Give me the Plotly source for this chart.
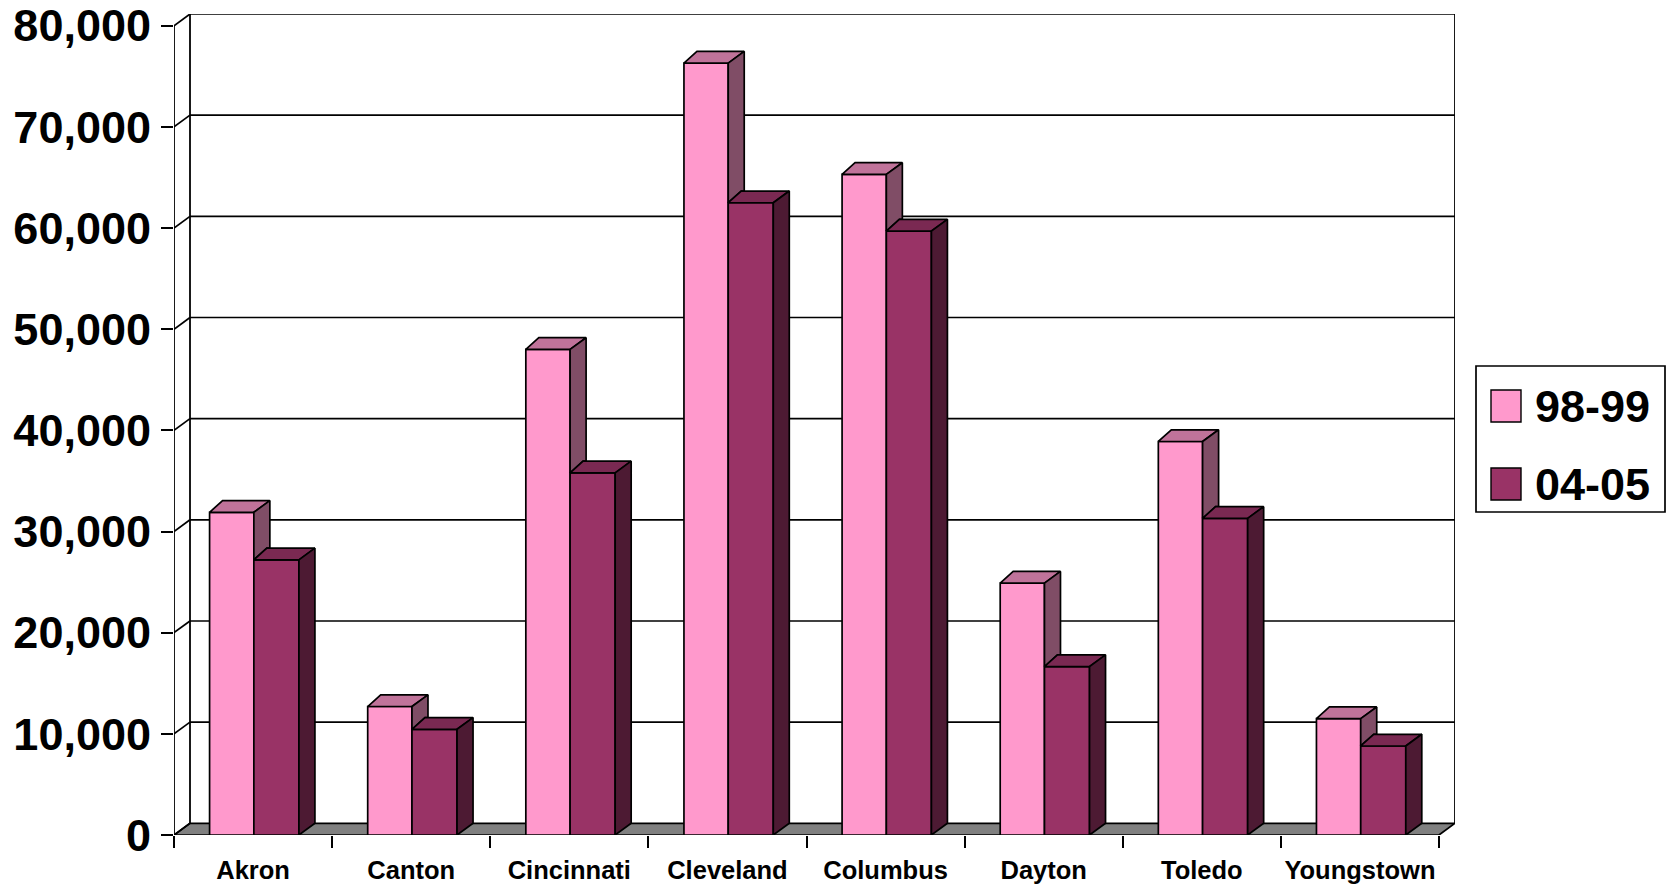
import plotly.graph_objects as go

# ---------------- data ----------------
categories = ["Akron", "Canton", "Cincinnati", "Cleveland", "Columbus", "Dayton", "Toledo", "Youngstown"]
series_names = ["98-99", "04-05"]
values_9899 = [31900, 12700, 48000, 76300, 65300, 24900, 38900, 11500]
values_0405 = [27200, 10450, 35800, 62500, 59700, 16650, 31300, 8800]
y_tick_values = [0, 10000, 20000, 30000, 40000, 50000, 60000, 70000, 80000]

# ---------------- layout constants ----------------
W, H = 1672, 886
L = 174                # front value axis (px)
T = 14                 # top of back wall (px)
ZERO_Y = 835           # zero line (px)
B = H - ZERO_Y
PX_PER_CAT = 158.125
DEPTH_PX_X = 16.0      # 3-D depth offset (pixels)
DEPTH_PX_X_LEFT = 13.0
DEPTH_PX_Y = 11.7
YMAX = 80000
PLOT_H = H - T - B
Y_SCALE = (PLOT_H - DEPTH_PX_Y) / YMAX          # px per unit
DY = DEPTH_PX_Y / Y_SCALE                        # depth in value units
DX = DEPTH_PX_X / PX_PER_CAT                     # depth in category units
DXL = DEPTH_PX_X_LEFT / PX_PER_CAT
X0, X1 = -0.5, len(categories) - 0.5
PLOT_W = (X1 - X0 + DX) * PX_PER_CAT
R = W - L - PLOT_W

C_PINK = "#FF99CC"; C_PINK_TOP = "#C0739A"; C_PINK_SIDE = "#804D66"
C_PURP = "#993366"; C_PURP_TOP = "#7A2952"; C_PURP_SIDE = "#4D1A33"

PINK_OFF, PINK_W = -0.275, 0.28
PURP_OFF, PURP_W = 0.005, 0.285

FONT = "Liberation Sans, Arial, sans-serif"

fig = go.Figure()

xs = list(range(len(categories)))
fig.add_trace(go.Bar(x=xs, y=values_9899, name=series_names[0], offset=PINK_OFF, width=PINK_W,
                     marker=dict(color=C_PINK, line=dict(color="black", width=1.7))))
fig.add_trace(go.Bar(x=xs, y=values_0405, name=series_names[1], offset=PURP_OFF, width=PURP_W,
                     marker=dict(color=C_PURP, line=dict(color="black", width=1.7))))

def poly_trace(px, py, color):
    return go.Scatter(x=px, y=py, mode="lines", fill="toself", fillcolor=color,
                      line=dict(color="black", width=1.7), hoverinfo="skip", showlegend=False)

pt_x, pt_y, ps_x, ps_y, ut_x, ut_y, us_x, us_y = [], [], [], [], [], [], [], []
for i, (v, p) in enumerate(zip(values_9899, values_0405)):
    xl = i + PINK_OFF; xr = xl + PINK_W
    pt_x += [xl, xr, xr + DX, xl + DXL, xl, None]
    pt_y += [v, v, v + DY, v + DY, v, None]
    if p < v:
        ps_x += [xr, xr, xr + DX, xr + DX, xr + DXL, xr, None]
        ps_y += [p, v, v + DY, p + DY, p + DY, p, None]
    ql = i + PURP_OFF; qr = ql + PURP_W
    ut_x += [ql, qr, qr + DX, ql + DXL, ql, None]
    ut_y += [p, p, p + DY, p + DY, p, None]
    us_x += [qr, qr + DX, qr + DX, qr, qr, None]
    us_y += [0, DY, p + DY, p, 0, None]

fig.add_trace(poly_trace(pt_x, pt_y, C_PINK_TOP))
fig.add_trace(poly_trace(ps_x, ps_y, C_PINK_SIDE))
fig.add_trace(poly_trace(ut_x, ut_y, C_PURP_TOP))
fig.add_trace(poly_trace(us_x, us_y, C_PURP_SIDE))

shapes = []
# floor
shapes.append(dict(type="path", xref="x", yref="y", layer="below",
                   path=f"M{X0},0 L{X1},0 L{X1+DX},{DY} L{X0+DX},{DY} Z",
                   fillcolor="#808080", line=dict(color="black", width=1.7)))
# back wall gridlines and side-wall diagonals
for t in y_tick_values:
    if t > 0:
        shapes.append(dict(type="line", xref="x", yref="y", layer="below",
                           x0=X0 + DX, x1=X1 + DX, y0=t + DY, y1=t + DY,
                           line=dict(color="black", width=1.7)))
    shapes.append(dict(type="line", xref="x", yref="y", layer="below",
                       x0=X0, x1=X0 + DX, y0=t, y1=t + DY,
                       line=dict(color="black", width=1.7)))
# wall verticals
for xx in (X0 + DX, X1 + DX):
    shapes.append(dict(type="line", xref="x", yref="y", layer="below",
                       x0=xx, x1=xx, y0=DY, y1=YMAX + DY, line=dict(color="black", width=1.8)))
# front value axis line
shapes.append(dict(type="line", xref="x", yref="y", layer="below",
                   x0=X0, x1=X0, y0=0, y1=YMAX, line=dict(color="black", width=1.8)))

# legend (drawn manually, pixel -> paper)
def pxp(px):
    return (px - L) / PLOT_W
def pyp(py):
    return (ZERO_Y - py) / PLOT_H

shapes.append(dict(type="rect", xref="paper", yref="paper",
                   x0=pxp(1476), x1=pxp(1665), y0=pyp(512), y1=pyp(366),
                   line=dict(color="black", width=1.7), fillcolor="white"))
annotations = []
for name, col, cy in ((series_names[0], C_PINK, 406), (series_names[1], C_PURP, 484)):
    shapes.append(dict(type="rect", xref="paper", yref="paper",
                       x0=pxp(1491), x1=pxp(1521), y0=pyp(cy + 16), y1=pyp(cy - 16),
                       line=dict(color="black", width=1.4), fillcolor=col))
    annotations.append(dict(xref="paper", yref="paper", x=pxp(1533), y=pyp(cy),
                            xanchor="left", yanchor="middle", showarrow=False, text=name,
                            font=dict(family=FONT, size=45, color="black", weight="bold")))

fig.update_layout(
    width=W, height=H,
    margin=dict(l=L, r=R, t=T, b=B, pad=0, autoexpand=False),
    paper_bgcolor="white", plot_bgcolor="white",
    barmode="overlay", showlegend=False,
    shapes=shapes, annotations=annotations,
    xaxis=dict(range=[X0, X1 + DX], tickmode="array", tickvals=xs, ticktext=categories,
               ticks="", showgrid=False, zeroline=False, showline=False, automargin=False,
               tickfont=dict(family=FONT, size=25.5, color="black", weight="bold"),
               ticklabelstandoff=17, ticklabeloverflow="allow",
               minor=dict(tickmode="array", tickvals=[X0 + k for k in range(len(categories) + 1)],
                          ticks="outside", ticklen=12, tickwidth=2, tickcolor="black", showgrid=False)),
    yaxis=dict(range=[0, YMAX + DY], tickmode="array", tickvals=y_tick_values,
               tickformat=",d", ticks="outside", ticklen=12, tickwidth=2, tickcolor="black",
               showgrid=False, zeroline=False, showline=False, automargin=False,
               tickfont=dict(family=FONT, size=45, color="black", weight="bold"),
               ticklabelstandoff=1, ticklabeloverflow="allow"),
)

fig.write_html("out.html", config={"displayModeBar": False},
               post_script="document.body.style.margin='0';document.body.style.overflow='hidden';")
